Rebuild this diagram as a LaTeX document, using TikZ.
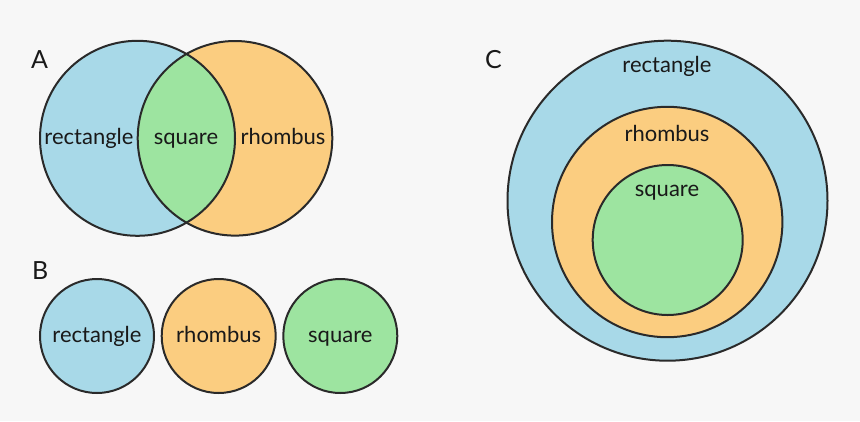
\documentclass[tikz,border=0pt]{standalone}
\usepackage{fontspec}
\setmainfont{Lato}
\definecolor{bgc}{HTML}{F7F7F7}
\definecolor{blu}{HTML}{A8D9E8}
\definecolor{org}{HTML}{FBCD80}
\definecolor{grn}{HTML}{9DE4A0}
\definecolor{ink}{HTML}{2A2A2A}
\tikzset{
  ring/.style={draw=ink, line width=2pt},
  lbl/.style={anchor=base, inner sep=0pt, font=\fontsize{22}{26}\selectfont, text=black!90},
  big/.style={anchor=base west, inner sep=0pt, font=\fontsize{25}{30}\selectfont, text=black!90}
}
\begin{document}
\begin{tikzpicture}[x=1pt,y=-1pt]
\fill[bgc] (0,0) rectangle (860,421);
\useasboundingbox (0,0) rectangle (860,421);
% A
\fill[blu] (137.5,138.3) circle (97.5);
\fill[org] (235,138.3) circle (97.3);
\begin{scope}
  \clip (137.5,138.3) circle (97.5);
  \fill[grn] (235,138.3) circle (97.3);
\end{scope}
\draw[ring] (137.5,138.3) circle (97.5);
\draw[ring] (235,138.3) circle (97.3);
\node[big] (la) at (31,68) {A};
\node[lbl] (a1) at (89,144) {rectangle};
\node[lbl] (a2) at (186,144) {square};
\node[lbl] (a3) at (283,144) {rhombus};
% B
\node[big] (lb) at (32,279) {B};
\draw[ring, fill=blu] (97,336) circle (57);
\draw[ring, fill=org] (218.7,336) circle (57);
\draw[ring, fill=grn] (340.3,336) circle (57);
\node[lbl] (b1) at (97,342.7) {rectangle};
\node[lbl] (b2) at (218.7,342.7) {rhombus};
\node[lbl] (b3) at (340.3,342.7) {square};
% C
\node[big] (lc) at (485,68) {C};
\draw[ring, fill=blu] (667.5,200.7) circle (160);
\draw[ring, fill=org] (667.2,222) circle (115.2);
\draw[ring, fill=grn] (667.7,240) circle (75);
\node[lbl] (c1) at (667,72.7) {rectangle};
\node[lbl] (c2) at (667,141.7) {rhombus};
\node[lbl] (c3) at (667,196.7) {square};
\end{tikzpicture}
\end{document}
